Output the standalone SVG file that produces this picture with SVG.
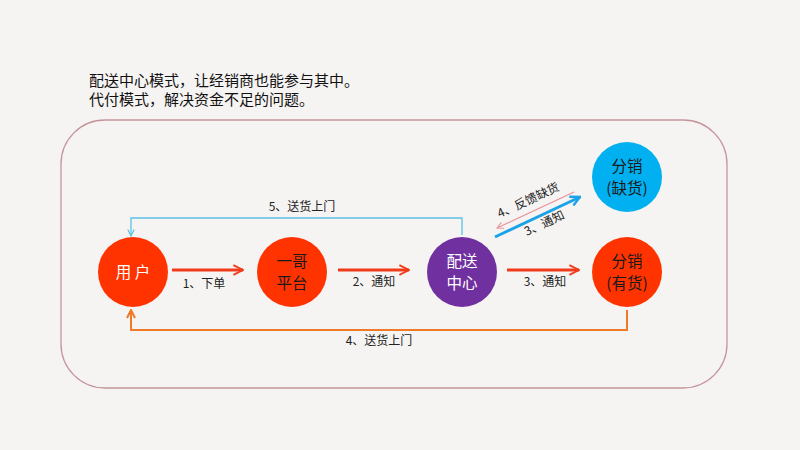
<svg xmlns="http://www.w3.org/2000/svg" width="800" height="450" viewBox="0 0 800 450">
<defs>
<style>
text{font-family:"Microsoft YaHei","Noto Sans CJK SC","Liberation Sans",sans-serif}
.title{font-size:15px;fill:#111}
.lbl{font-size:12px;fill:#222;text-anchor:middle}
.nw{font-size:15.5px;fill:#fff;text-anchor:middle}
.nd{font-size:15.5px;fill:#1a1a1a;text-anchor:middle}
.red{fill:#ff3300}
.ra{stroke:#f03a1a;stroke-width:3;fill:none}
</style>
<marker id="ah" viewBox="0 0 10 10" refX="9" refY="5" markerWidth="4" markerHeight="4" orient="auto" markerUnits="strokeWidth">
<path d="M1,1 L9,5 L1,9" fill="none" stroke="#f03a1a" stroke-width="1.6"/>
</marker>
<marker id="ahb" viewBox="0 0 10 10" refX="9" refY="5" markerWidth="8" markerHeight="8" orient="auto" markerUnits="userSpaceOnUse">
<path d="M1,1 L9,5 L1,9" fill="none" stroke="#5bc0e8" stroke-width="1.5"/>
</marker>
<marker id="aho" viewBox="0 0 10 10" refX="9" refY="5" markerWidth="10" markerHeight="10" orient="auto" markerUnits="userSpaceOnUse">
<path d="M1,1 L9,5 L1,9" fill="none" stroke="#f07a28" stroke-width="2"/>
</marker>
<marker id="ahc" viewBox="0 0 10 10" refX="9" refY="5" markerWidth="12" markerHeight="12" orient="auto" markerUnits="userSpaceOnUse">
<path d="M1,1 L9,5 L1,9" fill="none" stroke="#1aa3e8" stroke-width="2"/>
</marker>
<marker id="ahp" viewBox="0 0 10 10" refX="9" refY="5" markerWidth="8" markerHeight="8" orient="auto" markerUnits="userSpaceOnUse">
<path d="M1,1 L9,5 L1,9" fill="none" stroke="#e8909a" stroke-width="1.2"/>
</marker>
</defs>
<rect width="800" height="450" fill="#f6f4f2"/>
<text class="title" x="89" y="86">配送中心模式，让经销商也能参与其中。</text>
<text class="title" x="89" y="105">代付模式，解决资金不足的问题。</text>
<rect x="61" y="120" width="666" height="268" rx="44" ry="44" fill="none" stroke="#c4959c" stroke-width="1.3"/>

<g id="connectors">
<line class="ra" x1="172" y1="270" x2="243" y2="270" marker-end="url(#ah)"/>
<line class="ra" x1="338" y1="270" x2="409" y2="270" marker-end="url(#ah)"/>
<line class="ra" x1="507" y1="270" x2="579" y2="270" marker-end="url(#ah)"/>
<text class="lbl" x="204" y="288">1、下单</text>
<text class="lbl" x="374" y="286">2、通知</text>
<text class="lbl" x="545" y="286">3、通知</text>
<polyline points="462,235 462,218 131,218 131,236" fill="none" stroke="#5bc0e8" stroke-width="1.3" marker-end="url(#ahb)"/>
<text class="lbl" x="302" y="211">5、送货上门</text>
<polyline points="627,310 627,330 131,330 131,310" fill="none" stroke="#f07a28" stroke-width="2" marker-end="url(#aho)"/>
<text class="lbl" x="379" y="345">4、送货上门</text>
<line x1="495" y1="237" x2="580" y2="197" stroke="#1aa3e8" stroke-width="3" marker-end="url(#ahc)"/>
<line x1="574" y1="192" x2="497" y2="228" stroke="#e8909a" stroke-width="1.2" marker-end="url(#ahp)"/>
<text class="lbl" transform="translate(530,204) rotate(-25)">4、反馈缺货</text>
<text class="lbl" transform="translate(546,227) rotate(-25)">3、通知</text>
</g>

<g id="n-user">
<circle class="red" cx="133" cy="272" r="35"/>
<text class="nw" x="133" y="278" font-size="16">用 户</text>
</g>
<g id="n-platform">
<circle class="red" cx="292" cy="272" r="35"/>
<text class="nd" x="292" y="267">一哥</text>
<text class="nd" x="292" y="289">平台</text>
</g>
<g id="n-center">
<circle cx="462" cy="272" r="35" fill="#7030a0"/>
<text class="nw" x="462" y="267">配送</text>
<text class="nw" x="462" y="289">中心</text>
</g>
<g id="n-dist-have">
<circle class="red" cx="627" cy="272" r="35"/>
<text class="nd" x="627" y="267">分销</text>
<text class="nd" x="627" y="289">(有货)</text>
</g>
<g id="n-dist-lack">
<circle cx="627" cy="177" r="35" fill="#00b0f0"/>
<text class="nd" x="627" y="172">分销</text>
<text class="nd" x="627" y="194">(缺货)</text>
</g>
</svg>
